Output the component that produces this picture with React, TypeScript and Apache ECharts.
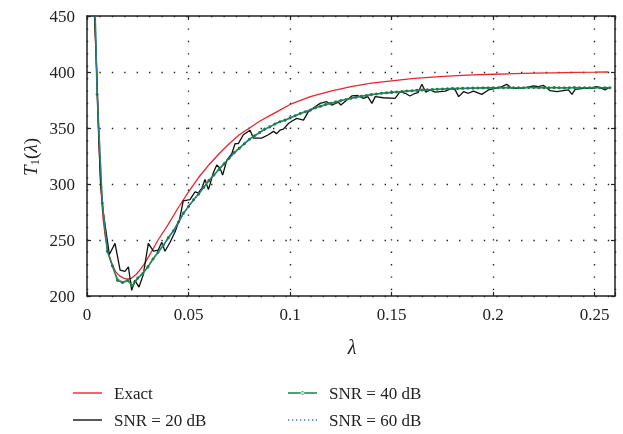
import React, { useEffect, useRef } from "react";
import * as echarts from "echarts";

// ---------- data ----------
const EXACT_LAMBDA = [
  0.0025, 0.003, 0.0035, 0.004, 0.0045, 0.005, 0.0055, 0.006, 0.0065, 0.007, 0.0075, 0.008, 0.009, 0.01,
  0.011, 0.012, 0.013, 0.014, 0.016, 0.018, 0.02, 0.022, 0.024, 0.026, 0.028, 0.03, 0.035, 0.04, 0.045,
  0.05, 0.055, 0.06, 0.065, 0.07, 0.075, 0.08, 0.085, 0.09, 0.095, 0.1, 0.11, 0.12, 0.13, 0.14, 0.15,
  0.16, 0.17, 0.18, 0.19, 0.2, 0.21, 0.22, 0.23, 0.24, 0.25, 0.2567,
];
const EXACT_T = [
  600, 520, 470, 438, 412, 388, 360, 332, 310, 292, 279, 268, 253, 243,
  236, 230, 226, 222, 218, 216, 215, 216, 219, 223, 228, 234, 250, 264, 279,
  293, 306, 317, 327, 336, 344, 350, 356, 361, 366, 371, 378, 383, 387, 390, 392,
  394, 395.5, 396.5, 397.5, 398, 398.5, 399, 399.3, 399.6, 399.8, 400,
];

const SNR20_LAMBDA = [
  0.0025, 0.0037, 0.0048, 0.0056, 0.0067, 0.008, 0.0095, 0.011, 0.0138, 0.0163, 0.0187, 0.0204, 0.022,
  0.0236, 0.0256, 0.0277, 0.0302, 0.0327, 0.0351, 0.0368, 0.0384, 0.0409, 0.0433, 0.0455, 0.0474, 0.0507,
  0.0532, 0.0548, 0.0565, 0.0581, 0.0598, 0.0622, 0.0639, 0.0655, 0.0668, 0.0688, 0.0713, 0.0729, 0.0745,
  0.077, 0.0803, 0.0819, 0.086, 0.0893, 0.0918, 0.0934, 0.095, 0.0967, 0.0992, 0.1008, 0.1033, 0.1066,
  0.109, 0.1123, 0.1148, 0.118, 0.1205, 0.1238, 0.125, 0.128, 0.1304, 0.1332, 0.1361, 0.1383, 0.1403,
  0.1419, 0.146, 0.1517, 0.1542, 0.1567, 0.159, 0.1616, 0.163, 0.1649, 0.1668, 0.169, 0.1714, 0.1764,
  0.1796, 0.1813, 0.183, 0.1854, 0.1878, 0.1903, 0.1944, 0.1977, 0.201, 0.2043, 0.2067, 0.2092, 0.2125,
  0.2158, 0.2199, 0.2223, 0.2248, 0.2264, 0.228, 0.2314, 0.2346, 0.2371, 0.2388, 0.2404, 0.2445, 0.2486,
  0.251, 0.2535, 0.2552, 0.2568,
];
const SNR20_T = [
  600, 450, 400, 350, 300, 275, 256, 237, 247, 223, 222, 226, 205,
  214, 208, 219, 247, 240, 241, 248, 240, 248, 257, 268, 285, 286,
  293, 292, 296, 304, 295, 310, 317, 314, 308, 321, 327, 336, 336,
  344, 348, 341, 341, 344, 347, 345, 348, 349, 354, 356, 358.6, 357,
  364.6, 369, 372, 373.5, 370.5, 373, 370.5, 375, 378.6, 379, 376.5, 378, 372,
  378, 377, 376.5, 382.4, 381, 378.6, 381, 381.5, 389, 382, 384, 382, 383,
  385.4, 384, 378, 382.4, 381, 383, 380, 384, 385.4, 387, 389, 385.4, 385.4,
  386, 387.5, 387, 388, 386, 383.3, 382.4, 383.3, 384, 380, 384.5, 385.4, 385.4,
  387, 385.4, 384, 386,
];

const GRID_LAMBDA = [
  0.0025, 0.005, 0.0075, 0.01, 0.0125, 0.015, 0.0175, 0.02, 0.0225, 0.025, 0.0275, 0.03, 0.0325, 0.035,
  0.0375, 0.04, 0.0425, 0.045, 0.0475, 0.05, 0.0525, 0.055, 0.0575, 0.06, 0.0625, 0.065, 0.0675, 0.07,
  0.0725, 0.075, 0.0775, 0.08, 0.0825, 0.085, 0.0875, 0.09, 0.0925, 0.095, 0.0975, 0.1, 0.1025, 0.105,
  0.1075, 0.11, 0.1125, 0.115, 0.1175, 0.12, 0.1225, 0.125, 0.1275, 0.13, 0.1325, 0.135, 0.1375, 0.14,
  0.1425, 0.145, 0.1475, 0.15, 0.1525, 0.155, 0.1575, 0.16, 0.1625, 0.165, 0.1675, 0.17, 0.1725, 0.175,
  0.1775, 0.18, 0.1825, 0.185, 0.1875, 0.19, 0.1925, 0.195, 0.1975, 0.2, 0.2025, 0.205, 0.2075, 0.21,
  0.2125, 0.215, 0.2175, 0.22, 0.2225, 0.225, 0.2275, 0.23, 0.2325, 0.235, 0.2375, 0.24, 0.2425, 0.245,
  0.2475, 0.25, 0.2525, 0.255, 0.2575,
];
const SNR40_T = [
  560, 380, 283, 240, 227, 214, 212, 214, 209, 216, 220, 226, 233, 239,
  245, 252, 258, 266, 274, 280, 286, 291, 297, 303, 308, 313, 318, 323,
  328, 332, 336, 340, 343, 346, 349, 351, 353.5, 355.5, 357, 359, 361, 363,
  364.5, 366, 368, 369.5, 371, 372, 373.3, 374.5, 375.5, 376.5, 377.5, 378.3, 379, 379.8,
  380.4, 381, 381.4, 381.8, 382.2, 382.6, 383, 383.3, 383.6, 383.9, 384.2, 384.4, 384.6, 384.8,
  385, 385.2, 385.3, 385.4, 385.5, 385.6, 385.7, 385.8, 385.8, 385.9, 386, 385.9, 386.1, 386,
  385.9, 386, 386.1, 386.2, 386, 385.9, 386, 386.1, 386, 385.8, 386, 386.1, 386, 385.9,
  386, 386.1, 385.9, 386, 386,
];
const SNR60_T = [
  560, 383, 285, 241, 226, 216, 212, 213, 212, 216, 221, 227, 233, 239,
  245, 251, 258, 265, 273, 280, 286, 292, 297.5, 303, 308, 313.5, 318.5, 323,
  327.5, 331.5, 335.5, 339.5, 343, 346, 348.5, 351, 353.5, 355.5, 357.5, 359.2, 361, 362.8,
  364.5, 366, 367.7, 369.2, 370.6, 371.8, 373, 374.2, 375.2, 376.2, 377.2, 378, 378.8, 379.5,
  380.1, 380.7, 381.2, 381.6, 382, 382.4, 382.8, 383.1, 383.4, 383.7, 384, 384.2, 384.4, 384.6,
  384.8, 385, 385.1, 385.2, 385.3, 385.4, 385.5, 385.6, 385.7, 385.7, 385.8, 385.8, 385.9, 385.9,
  386, 386, 386, 386.1, 386, 386, 386.1, 386.1, 386, 386.1, 386.1, 386, 386.1,
  386.1, 386.1, 386, 386.1,
];

const X_TICKS = ["0", "0.05", "0.1", "0.15", "0.2", "0.25"];
const Y_TICKS = ["200", "250", "300", "350", "400", "450"];

const SERIES_NAMES = ["Exact", "SNR = 20 dB", "SNR = 40 dB", "SNR = 60 dB"];

// legend icons (29 px wide)
const ICON_LINE = "path://M0 0 H29 V1.4 H0 Z";
const ICON_LINE_DOT =
  "path://M0 1.3 H29 V2.7 H0 Z M14.5 0.2 A1.8 1.8 0 1 0 14.5 3.8 A1.8 1.8 0 1 0 14.5 0.2 Z";
const ICON_DOTTED =
  "path://M0 0 h1.3 v1.3 h-1.3 Z M4 0 h1.3 v1.3 h-1.3 Z M8 0 h1.3 v1.3 h-1.3 Z M12 0 h1.3 v1.3 h-1.3 Z M16 0 h1.3 v1.3 h-1.3 Z M20 0 h1.3 v1.3 h-1.3 Z M24 0 h1.3 v1.3 h-1.3 Z M27.7 0 h1.3 v1.3 h-1.3 Z";

export default function App() {
  const ref = useRef<HTMLDivElement>(null);

  useEffect(() => {
    if (!ref.current) return;
    const chart = echarts.init(ref.current, null, { renderer: "svg" });
    const FONT = "Liberation Serif";
    const pairs = (xs: number[], ys: number[]) => xs.map((x, i) => [x, ys[i]]);
    const axisColor = "#222";
    const gridLine = { color: "#222", width: 1.4, type: [1.4, 11] as any };

    const xLabel = (v: number) => {
      const s = parseFloat(v.toFixed(3)).toString();
      return X_TICKS.indexOf(s) >= 0 ? s : "";
    };
    const yLabel = (v: number) => {
      const s = String(Math.round(v));
      return Y_TICKS.indexOf(s) >= 0 ? s : "";
    };

    const baseAxisLine = { show: true, onZero: false, lineStyle: { color: axisColor, width: 1.5 } };
    const baseTick = { show: true, inside: true, length: 4, lineStyle: { color: axisColor, width: 1.2 } };

    const legendItem = (name: string, icon: string, left: number, top: number) => ({
      left, top, orient: "horizontal", itemWidth: 29, itemHeight: 4,
      data: [{ name, icon }],
      selectedMode: false,
      textStyle: { fontSize: 17, fontFamily: FONT, color: "#222", lineHeight: 18, padding: [0, 0, 0, 7] },
    });

    chart.setOption({
      animation: false,
      textStyle: { fontFamily: FONT },
      grid: { left: 87, top: 16, width: 528, height: 280, containLabel: false },
      xAxis: [
        {
          type: "value", min: 0, max: 0.26, interval: 0.05, position: "bottom",
          axisLine: baseAxisLine, axisTick: baseTick,
          axisLabel: { color: axisColor, fontSize: 17, fontFamily: FONT, margin: 10, formatter: xLabel },
          splitLine: { show: true, lineStyle: gridLine },
        },
        {
          type: "value", min: 0, max: 0.26, interval: 0.05, position: "top",
          axisLine: baseAxisLine, axisTick: baseTick,
          axisLabel: { show: false }, splitLine: { show: false },
        },
      ],
      yAxis: [
        {
          type: "value", min: 200, max: 450, interval: 50, position: "left",
          axisLine: baseAxisLine, axisTick: baseTick,
          axisLabel: { color: axisColor, fontSize: 17, fontFamily: FONT, margin: 12, formatter: yLabel },
          splitLine: { show: true, lineStyle: gridLine },
        },
        {
          type: "value", min: 200, max: 450, interval: 50, position: "right",
          axisLine: baseAxisLine, axisTick: baseTick,
          axisLabel: { show: false }, splitLine: { show: false },
        },
      ],
      legend: [
        legendItem(SERIES_NAMES[0], ICON_LINE, 68, 379),
        legendItem(SERIES_NAMES[1], ICON_LINE, 68, 406),
        legendItem(SERIES_NAMES[2], ICON_LINE_DOT, 283, 379),
        legendItem(SERIES_NAMES[3], ICON_DOTTED, 283, 406),
      ],
      graphic: [
        {
          type: "text", x: 352, y: 347,
          style: { text: "λ", fontFamily: FONT, fontSize: 20, fontStyle: "italic", fill: "#222", align: "center", verticalAlign: "middle" },
        },
        {
          type: "text", x: 30, y: 157, rotation: Math.PI / 2,
          style: {
            text: "{i|T}{s|1}{n|(}{i|λ}{n|)}",
            align: "center", verticalAlign: "middle", fill: "#222", fontFamily: FONT,
            rich: {
              i: { fontFamily: FONT, fontSize: 19, fontStyle: "italic", fill: "#222", lineHeight: 22, verticalAlign: "middle" },
              n: { fontFamily: FONT, fontSize: 19, fill: "#222", lineHeight: 22, verticalAlign: "middle" },
              s: { fontFamily: FONT, fontSize: 13, fill: "#222", lineHeight: 14, verticalAlign: "bottom" },
            },
          },
        },
      ],
      series: [
        {
          name: SERIES_NAMES[0], type: "line", data: pairs(EXACT_LAMBDA, EXACT_T),
          symbol: "none", clip: true, color: "#e8262b",
          lineStyle: { color: "#e8262b", width: 1.3 },
        },
        {
          name: SERIES_NAMES[1], type: "line", data: pairs(SNR20_LAMBDA, SNR20_T),
          symbol: "none", clip: true, color: "#111",
          lineStyle: { color: "#111", width: 1.3 },
        },
        {
          name: SERIES_NAMES[2], type: "line", data: pairs(GRID_LAMBDA, SNR40_T),
          symbol: "circle", symbolSize: 3, clip: true, color: "#1b8040",
          itemStyle: { color: "#1b8040" },
          lineStyle: { color: "#1b8040", width: 1.6 },
        },
        {
          name: SERIES_NAMES[3], type: "line", data: pairs(GRID_LAMBDA, SNR60_T),
          symbol: "none", clip: true, color: "#4a74d6",
          lineStyle: { color: "#4a74d6", width: 1.2, type: "dotted" },
        },
      ],
    });
    return () => chart.dispose();
  }, []);

  return <div ref={ref} style={{ position: "fixed", left: 0, top: 0, width: 623, height: 434 }} />;
}
